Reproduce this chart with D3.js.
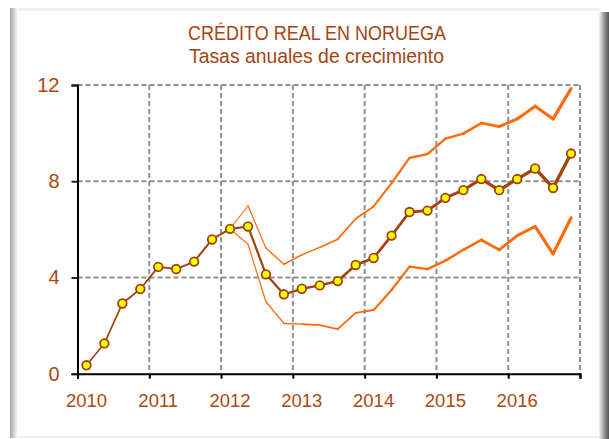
<!DOCTYPE html>
<html><head><meta charset="utf-8">
<script src="https://cdn.jsdelivr.net/npm/d3@7"></script>
<style>html,body{margin:0;padding:0;background:#fff;}svg{display:block;}</style>
</head><body>
<script>
// ---- data ----
const quarters = ["2010T1","2010T2","2010T3","2010T4","2011T1","2011T2","2011T3","2011T4",
  "2012T1","2012T2","2012T3","2012T4","2013T1","2013T2","2013T3","2013T4",
  "2014T1","2014T2","2014T3","2014T4","2015T1","2015T2","2015T3","2015T4",
  "2016T1","2016T2","2016T3","2016T4"];
const credito = [0.35,1.26,2.92,3.52,4.44,4.35,4.66,5.58,
  6.02,6.12,4.13,3.30,3.53,3.67,3.85,4.52,
  4.81,5.74,6.72,6.78,7.31,7.63,8.09,7.63,
  8.09,8.53,7.72,9.15];
const bandaSuperior = [null,null,null,null,null,null,null,null,
  6.02,6.98,5.22,4.55,4.94,5.25,5.59,6.44,
  6.95,7.92,8.97,9.13,9.77,9.98,10.42,10.27,
  10.59,11.12,10.59,11.85];
const bandaInferior = [null,null,null,null,null,null,null,null,
  6.02,5.38,2.99,2.09,2.06,2.02,1.85,2.53,
  2.65,3.48,4.45,4.35,4.70,5.15,5.56,5.15,
  5.74,6.12,4.98,6.47];
const yearLabels = ["2010","2011","2012","2013","2014","2015","2016"];
const yTicks = [0,4,8,12];
const title1 = "CRÉDITO REAL EN NORUEGA";
const title2 = "Tasas anuales de crecimiento";

// ---- drawing ----
const W = 609, H = 439;
const svg = d3.select("body").append("svg").attr("width", W).attr("height", H);
const defs = svg.append("defs");
const gl = defs.append("linearGradient").attr("id","gl").attr("x1","0").attr("x2","1");
gl.append("stop").attr("offset","0").attr("stop-color","#a8a8a8");
gl.append("stop").attr("offset","1").attr("stop-color","#ffffff");
const gr = defs.append("linearGradient").attr("id","gr").attr("x1","0").attr("x2","1");
gr.append("stop").attr("offset","0").attr("stop-color","#f4f4f4");
gr.append("stop").attr("offset","0.6").attr("stop-color","#8a8a8a");
gr.append("stop").attr("offset","1").attr("stop-color","#555");

// frame
svg.append("rect").attr("x",10).attr("y",8).attr("width",592).attr("height",430).attr("fill","#fff");
svg.append("rect").attr("x",10).attr("y",8).attr("width",590).attr("height",3).attr("fill","#efefef");
svg.append("rect").attr("x",10).attr("y",8).attr("width",8).attr("height",430).attr("fill","url(#gl)");
svg.append("rect").attr("x",599).attr("y",12).attr("width",10).attr("height",427).attr("fill","url(#gr)");
svg.append("rect").attr("x",18).attr("y",436).attr("width",581).attr("height",2).attr("fill","#eeeeee");

const x = d3.scaleLinear().domain([2010, 2017]).range([77.5, 580]);
const y = d3.scaleLinear().domain([0, 12]).range([373.7, 85]);
const tx = i => x(2010 + 0.125 + i * 0.25);

const brown = "#a3420c", orange = "#ff6a0a", labelCol = "#b0470f";

// grid
const grid = svg.append("g");
grid.selectAll("line.v").data(d3.range(2011, 2018)).join("line")
  .attr("x1", d => x(d)).attr("x2", d => x(d)).attr("y1", y(12)).attr("y2", y(0))
  .attr("stroke","#8f8f8f").attr("stroke-width",2).attr("stroke-dasharray","5,3");
grid.selectAll("line.h").data(yTicks.filter(d => d > 0)).join("line")
  .attr("x1", x(2010)).attr("x2", x(2017)).attr("y1", d => y(d)).attr("y2", d => y(d))
  .attr("stroke","#8f8f8f").attr("stroke-width",2).attr("stroke-dasharray","5,3");

// axes
const yAxis = svg.append("g").attr("transform",`translate(${x(2010)},0)`)
  .call(d3.axisLeft(y).tickValues(yTicks).tickSize(6).tickPadding(12).tickFormat(d3.format("d")));
yAxis.select(".domain").attr("stroke","#000").attr("stroke-width",2);
yAxis.selectAll(".tick line").attr("stroke","#222").attr("stroke-width",2);
yAxis.selectAll("text").attr("fill",labelCol).style("font-family","'Liberation Sans', Arial, sans-serif").style("font-size","20px");

const xAxis = svg.append("g").attr("transform",`translate(0,${y(0)})`)
  .call(d3.axisBottom(x).tickValues(d3.range(2010, 2018)).tickSize(5).tickFormat(""));
xAxis.select(".domain").attr("stroke","#000").attr("stroke-width",2);
xAxis.selectAll(".tick line").attr("stroke","#000").attr("stroke-width",2);

svg.append("g").selectAll("text").data(yearLabels).join("text")
  .attr("x", (d,i) => tx(i*4)).attr("y", 407)
  .attr("text-anchor","middle").attr("fill",labelCol)
  .style("font-family","'Liberation Sans', Arial, sans-serif").style("font-size","18.5px")
  .text(d => d);

// lines drawn as segments with growing width
function drawSeries(vals, color, w0, w1) {
  const segs = [];
  const idx = vals.map((v,i) => v == null ? null : i).filter(i => i != null);
  const first = idx[0], last = idx[idx.length-1];
  for (let k = 0; k < idx.length - 1; k++) {
    const i = idx[k];
    const t = (i - first) / Math.max(1, last - 1 - first);
    segs.push({i, v0: vals[i], v1: vals[i+1], w: w0 + (w1 - w0) * t});
  }
  svg.append("g").selectAll("line").data(segs).join("line")
    .attr("x1", d => tx(d.i)).attr("x2", d => tx(d.i+1))
    .attr("y1", d => y(d.v0)).attr("y2", d => y(d.v1))
    .attr("stroke", color).attr("stroke-width", d => d.w).attr("stroke-linecap","round");
}
drawSeries(bandaSuperior, orange, 1.1, 3.2);
drawSeries(bandaInferior, orange, 1.1, 3.2);
drawSeries(credito, brown, 1.6, 3.4);

svg.append("g").selectAll("circle").data(credito).join("circle")
  .attr("cx", (d,i) => tx(i)).attr("cy", d => y(d)).attr("r", 4.3)
  .attr("fill","#ffff00").attr("stroke", brown).attr("stroke-width",1.8);

// title
const tg = svg.append("g").attr("fill","#a34514")
  .style("font-family","'Liberation Sans', Arial, sans-serif").style("font-size","20.5px");
tg.append("text").attr("x",317).attr("y",40).attr("text-anchor","middle")
  .attr("textLength",258).attr("lengthAdjust","spacingAndGlyphs").text(title1);
tg.append("text").attr("x",316.5).attr("y",62.5).attr("text-anchor","middle")
  .attr("textLength",255).attr("lengthAdjust","spacingAndGlyphs").text(title2);
</script>
</body></html>
